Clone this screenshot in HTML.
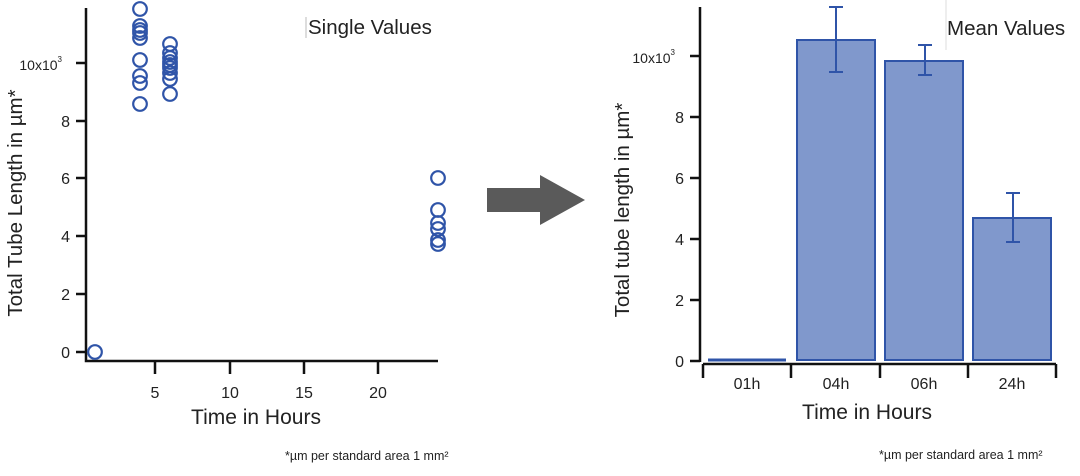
<!DOCTYPE html>
<html><head><style>body{margin:0;background:#fff}svg{display:block}text{font-family:"Liberation Sans",sans-serif;fill:#222}</style></head><body>
<svg width="1080" height="476" viewBox="0 0 1080 476">
<g stroke="#111" stroke-width="2.5" fill="none">
<path d="M86 8V361H438"/>
<path d="M76 352H86M76 294H86M76 236H86M76 178H86M76 121H86M76 63H86"/>
<path d="M155 361V374M230 361V374M304 361V374M378 361V374"/>
</g>
<g font-size="16" text-anchor="end">
<text x="70" y="358">0</text><text x="70" y="300">2</text><text x="70" y="242">4</text><text x="70" y="184">6</text><text x="70" y="127">8</text>
<text x="62" y="70" font-size="14">10x10<tspan font-size="8" dy="-8">3</tspan></text>
</g>
<g font-size="16" text-anchor="middle"><text x="155" y="398">5</text><text x="230" y="398">10</text><text x="304" y="398">15</text><text x="378" y="398">20</text></g>
<text x="256" y="424" font-size="21" text-anchor="middle">Time in Hours</text>
<text transform="translate(22,203) rotate(-90)" font-size="20.5" text-anchor="middle">Total Tube Length in µm*</text>
<line x1="306" y1="17" x2="306" y2="38" stroke="#bbb"/>
<text x="308" y="34" font-size="20.5">Single Values</text>
<text x="285" y="460" font-size="12.5">*µm per standard area 1 mm²</text>
<g fill="none" stroke="#2f54a8" stroke-width="2.2">
<circle cx="95" cy="352" r="6.8"/>
<circle cx="140" cy="9" r="6.8"/><circle cx="140" cy="26" r="6.8"/><circle cx="140" cy="30" r="6.8"/><circle cx="140" cy="33" r="6.8"/><circle cx="140" cy="38" r="6.8"/><circle cx="140" cy="60" r="6.8"/><circle cx="140" cy="76" r="6.8"/><circle cx="140" cy="83" r="6.8"/><circle cx="140" cy="104" r="6.8"/>
<circle cx="170" cy="44" r="6.8"/><circle cx="170" cy="53" r="6.8"/><circle cx="170" cy="58" r="6.8"/><circle cx="170" cy="62" r="6.8"/><circle cx="170" cy="65" r="6.8"/><circle cx="170" cy="68" r="6.8"/><circle cx="170" cy="73" r="6.8"/><circle cx="170" cy="79" r="6.8"/><circle cx="170" cy="94" r="6.8"/>
<circle cx="438" cy="178" r="6.8"/><circle cx="438" cy="210" r="6.8"/><circle cx="438" cy="223" r="6.8"/><circle cx="438" cy="229" r="6.8"/><circle cx="438" cy="240" r="6.8"/><circle cx="438" cy="244" r="6.8"/>
</g>
<polygon points="487,188 540,188 540,175 585,200 540,225 540,212 487,212" fill="#5a5a5a"/>
<g fill="#8098cc" stroke="#2f54a8" stroke-width="2">
<rect x="797" y="40" width="78" height="320"/>
<rect x="885" y="61" width="78" height="299"/>
<rect x="973" y="218" width="78" height="142"/>
</g>
<line x1="708" y1="360" x2="786" y2="360" stroke="#2f54a8" stroke-width="3"/>
<g stroke="#2f54a8" stroke-width="2">
<path d="M836 7V72M829 7H843M829 72H843"/>
<path d="M925 45V75M918 45H932M918 75H932"/>
<path d="M1013 193V242M1006 193H1020M1006 242H1020"/>
</g>
<g stroke="#111" stroke-width="2.5" fill="none">
<path d="M700 7V362"/>
<path d="M703 364H1056"/>
<path d="M690 361H700M690 300H700M690 239H700M690 178H700M690 117H700M690 56H700"/>
<path d="M703 364V378M791 364V378M880 364V378M968 364V378M1056 364V378"/>
</g>
<g font-size="16" text-anchor="end">
<text x="684" y="367">0</text><text x="684" y="306">2</text><text x="684" y="245">4</text><text x="684" y="184">6</text><text x="684" y="123">8</text>
<text x="675" y="63" font-size="14">10x10<tspan font-size="8" dy="-8">3</tspan></text>
</g>
<g font-size="16" text-anchor="middle"><text x="747" y="389">01h</text><text x="836" y="389">04h</text><text x="924" y="389">06h</text><text x="1012" y="389">24h</text></g>
<text x="867" y="419" font-size="21" text-anchor="middle">Time in Hours</text>
<text transform="translate(629,210) rotate(-90)" font-size="20.5" text-anchor="middle">Total tube length in µm*</text>
<line x1="946" y1="0" x2="946" y2="50" stroke="#ddd"/>
<text x="947" y="35" font-size="20.5">Mean Values</text>
<text x="879" y="459" font-size="12.5">*µm per standard area 1 mm²</text>
</svg>
</body></html>
